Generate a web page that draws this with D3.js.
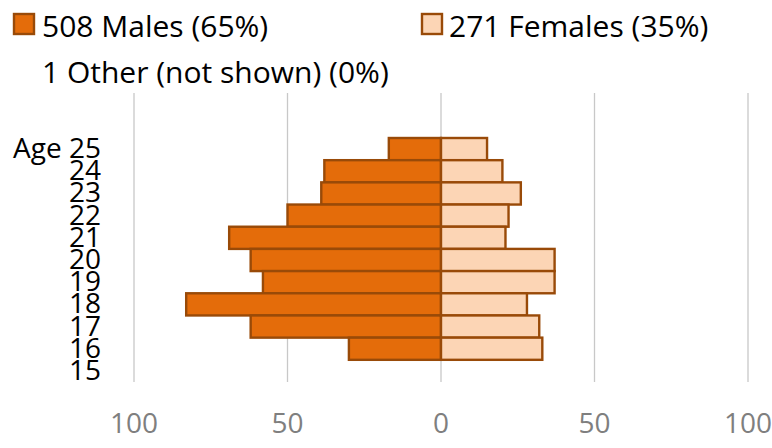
<!DOCTYPE html>
<html>
<head>
<meta charset="utf-8">
<script src="https://cdn.jsdelivr.net/npm/d3@7"></script>
<style>
  html, body { margin: 0; padding: 0; background: #fff; }
  svg { display: block; font-family: "Open Sans", sans-serif; }
</style>
</head>
<body>
<svg id="chart" width="772" height="448"></svg>
<script>
const ages = [25, 24, 23, 22, 21, 20, 19, 18, 17, 16, 15];
const males = [17, 38, 39, 50, 69, 62, 58, 83, 62, 30, 0];
const females = [15, 20, 26, 22, 21, 37, 37, 28, 32, 33, 0];
const xTicks = [-100, -50, 0, 50, 100];
const legendLabels = ["508 Males (65%)", "271 Females (35%)", "1 Other (not shown) (0%)"];

const svg = d3.select("#chart");
const x = d3.scaleLinear().domain([-100, 100]).range([134, 748]);
const y = d3.scaleBand().domain(ages).range([138, 382]).padding(0);
const gridTop = 93, gridBottom = 382;

// gridlines
svg.append("g").selectAll("line").data(xTicks).join("line")
  .attr("x1", d => x(d)).attr("x2", d => x(d))
  .attr("y1", gridTop).attr("y2", gridBottom)
  .attr("stroke", "#c8c8c8").attr("stroke-width", 1.3);

const stroke = "#994a08";
// male bars
svg.append("g").selectAll("rect").data(ages.map((a, i) => ({a, v: males[i]})).filter(d => d.v > 0)).join("rect")
  .attr("x", d => x(-d.v)).attr("width", d => x(0) - x(-d.v))
  .attr("y", d => y(d.a)).attr("height", y.bandwidth())
  .attr("fill", "#e46c0a").attr("stroke", stroke).attr("stroke-width", 2.4);
// female bars
svg.append("g").selectAll("rect").data(ages.map((a, i) => ({a, v: females[i]})).filter(d => d.v > 0)).join("rect")
  .attr("x", x(0)).attr("width", d => x(d.v) - x(0))
  .attr("y", d => y(d.a)).attr("height", y.bandwidth())
  .attr("fill", "#fcd5b5").attr("stroke", stroke).attr("stroke-width", 2.4);

// y labels
svg.append("g").selectAll("text").data(ages).join("text")
  .attr("x", 101).attr("y", d => y(d) + y.bandwidth() / 2 + 9)
  .attr("text-anchor", "end").attr("font-size", 28).attr("fill", "#000")
  .text((d, i) => i === 0 ? "Age " + d : d);

// x tick labels
svg.append("g").selectAll("text").data(xTicks).join("text")
  .attr("x", d => x(d)).attr("y", 433)
  .attr("text-anchor", "middle").attr("font-size", 28).attr("fill", "#7f7f7f")
  .text(d => Math.abs(d));

// legend
const leg = svg.append("g");
leg.append("rect").attr("x", 14).attr("y", 14).attr("width", 20).attr("height", 20)
  .attr("fill", "#e46c0a").attr("stroke", stroke).attr("stroke-width", 2.4);
leg.append("text").attr("x", 42).attr("y", 36.5).attr("font-size", 30).text(legendLabels[0]);
leg.append("rect").attr("x", 422).attr("y", 14).attr("width", 20).attr("height", 20)
  .attr("fill", "#fcd5b5").attr("stroke", stroke).attr("stroke-width", 2.4);
leg.append("text").attr("x", 449).attr("y", 36.5).attr("font-size", 30).text(legendLabels[1]);
leg.append("text").attr("x", 42).attr("y", 83).attr("font-size", 30).text(legendLabels[2]);
</script>
</body>
</html>
